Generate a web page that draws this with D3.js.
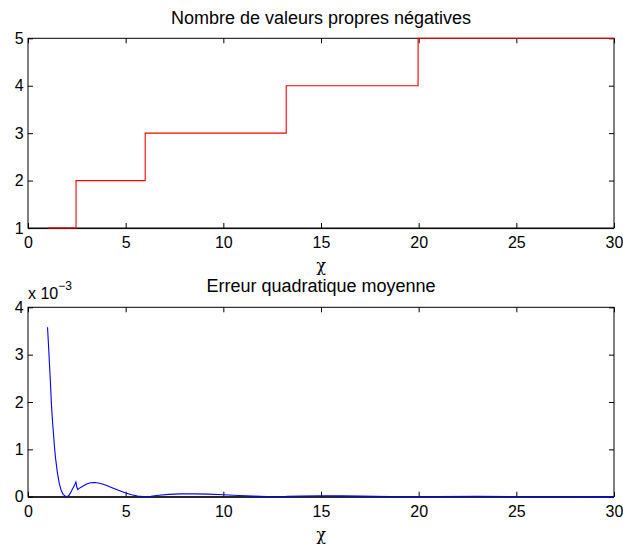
<!DOCTYPE html>
<html><head><meta charset="utf-8">
<script src="https://cdn.jsdelivr.net/npm/d3@7"></script>
<style>body{margin:0;background:#fff}svg{display:block}text{font-family:"Liberation Sans",Arial,Helvetica,sans-serif;fill:#000}</style>
</head><body>
<script>
// ---- Data ----
const xTicks = [0, 5, 10, 15, 20, 25, 30];
const topYTicks = [1, 2, 3, 4, 5];
const botYTicks = [0, 1, 2, 3, 4];
// number of negative eigenvalues (step function): chi breakpoints and counts
const stepChi = [1, 2.46, 2.46, 6.0, 6.0, 13.22, 13.22, 19.97, 19.97, 30];
const stepCount = [1, 1, 2, 2, 3, 3, 4, 4, 5, 5];
// mean squared error (x 1e-3)
const errChi = [1.0,1.05,1.1,1.15,1.2,1.25,1.3,1.35,1.4,1.5,1.6,1.7,1.8,1.9,2.0,2.1,2.2,2.3,2.4,2.45,2.5,2.55,2.6,2.8,3.0,3.2,3.4,3.6,3.8,4.0,4.3,4.6,5.0,5.3,5.6,5.9,6.0,6.3,6.7,7.2,7.8,8.5,9.2,10,10.8,11.5,12.2,13,13.3,14,15,16,17,18.5,20,21,23,25,27,30];
const errVal = [3.58,3.2,2.8,2.4,1.95,1.62,1.35,1.08,0.85,0.52,0.28,0.13,0.05,0.012,0.0,0.03,0.10,0.18,0.26,0.31,0.20,0.15,0.17,0.22,0.27,0.295,0.30,0.29,0.27,0.24,0.19,0.14,0.08,0.04,0.015,0.003,0.0,0.01,0.03,0.05,0.06,0.06,0.055,0.04,0.025,0.012,0.004,0.0,0.01,0.015,0.02,0.018,0.012,0.005,0.0,0.003,0.008,0.005,0.003,0.002];

const W = 623, H = 544;
const svg = d3.select("body").append("svg").attr("width", W).attr("height", H);

const x = d3.scaleLinear().domain([0, 30]).range([28, 614]);
const yTop = d3.scaleLinear().domain([1, 5]).range([228, 38.3]);
const yBot = d3.scaleLinear().domain([0, 4]).range([496.7, 307.3]);

function panel(y, yTicks, data, color, title, titleY) {
  const g = svg.append("g");
  const [y0, y1] = y.range();
  const [x0, x1] = x.range();
  const line = d3.line().x(d => x(d[0])).y(d => y(d[1]));
  // box
  g.append("rect").attr("x", x0).attr("y", y1).attr("width", x1 - x0).attr("height", y0 - y1)
    .attr("fill", "none").attr("stroke", "#000").attr("stroke-width", 1);
  g.append("line").attr("x1", x0).attr("x2", x1).attr("y1", y0 + 0.6).attr("y2", y0 + 0.6).attr("stroke", "#000").attr("stroke-width", 1);
  // axes with inward ticks
  const tl = 5;
  const ax = g.append("g").attr("transform", `translate(0,${y0})`)
    .call(d3.axisBottom(x).tickValues(xTicks).tickSize(-tl).tickPadding(9).tickFormat(d3.format("d")));
  const axT = g.append("g").attr("transform", `translate(0,${y1})`)
    .call(d3.axisTop(x).tickValues(xTicks).tickSize(-tl).tickFormat(""));
  const ay = g.append("g").attr("transform", `translate(${x0},0)`)
    .call(d3.axisLeft(y).tickValues(yTicks).tickSize(-tl).tickPadding(6).tickFormat(d3.format("d")));
  const ayR = g.append("g").attr("transform", `translate(${x1},0)`)
    .call(d3.axisRight(y).tickValues(yTicks).tickSize(-tl).tickFormat(""));
  [ax, axT, ay, ayR].forEach(a => {
    a.select(".domain").remove();
    a.selectAll("line").attr("stroke", "#000");
    a.selectAll("text").attr("font-size", 16).style("font-family", '"Liberation Sans",Arial,sans-serif');
  });
  ay.selectAll("text").attr("dx", "0.1em");
  // data on top
  g.append("path").datum(data).attr("d", line)
    .attr("fill", "none").attr("stroke", color).attr("stroke-width", 1.1);
  // labels
  g.append("text").attr("x", (x0 + x1) / 2).attr("y", y0 + 43).attr("text-anchor", "middle")
    .attr("font-size", 16).style("font-family", '"DejaVu Serif",serif').text("χ");
  g.append("text").attr("x", (x0 + x1) / 2).attr("y", titleY).attr("text-anchor", "middle")
    .attr("font-size", 18).text(title);
  return g;
}

panel(yTop, topYTicks, stepChi.map((c, i) => [c, stepCount[i]]), "#ff0000",
  "Nombre de valeurs propres négatives", 24);
panel(yBot, botYTicks, errChi.map((c, i) => [c, errVal[i]]), "#0000ff",
  "Erreur quadratique moyenne", 292);

// exponent label
const ex = svg.append("text").attr("x", 28).attr("y", 298.5).attr("font-size", 16);
ex.append("tspan").text("x 10");
ex.append("tspan").attr("dy", -9).attr("font-size", 12).text("−3");
</script>
</body></html>
